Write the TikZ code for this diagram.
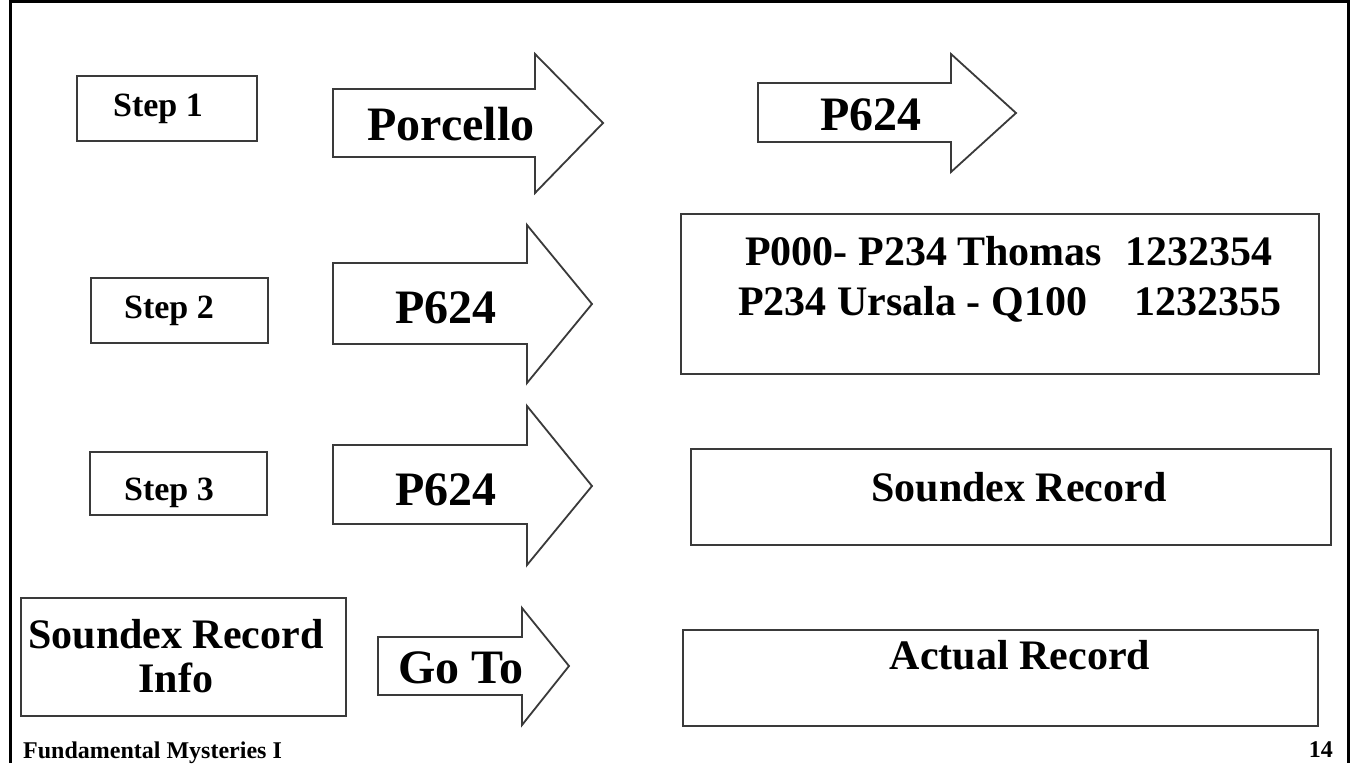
\documentclass[tikz,border=0pt]{standalone}
\usepackage{fontspec}
\setmainfont{Liberation Serif}
\definecolor{edgegray}{HTML}{3A3A3A}
\newcommand\shapearrow[8]{%
  % tail x, body top, body bottom, head x, head top, head bottom, tip x, tip y
  \draw[arrowline] (#1,#2) -- (#4,#2) -- (#4,#5) -- (#7,#8) -- (#4,#6) -- (#4,#3) -- (#1,#3) -- cycle;}
\begin{document}
\begin{tikzpicture}[x=1pt,y=-1pt,
  box/.style={draw=edgegray, line width=2pt, rectangle, inner sep=0pt, anchor=north west},
  arrowline/.style={draw=edgegray, line width=1.8pt, line join=miter, fill=white},
  lbl/.style={inner sep=0pt, anchor=base, text=black},
  small/.style={font=\fontsize{34}{36}\selectfont\bfseries},
  big/.style={font=\fontsize{48}{50}\selectfont\bfseries},
  mid/.style={font=\fontsize{42}{44}\selectfont\bfseries},
  foot/.style={font=\fontsize{24}{26}\selectfont\bfseries}]
\useasboundingbox (0,0) rectangle (1354,763);
\fill[white] (0,0) rectangle (1354,763);

% slide frame
\draw[line width=3pt] (10,1.5) -- (1348,1.5);
\draw[line width=3pt] (10,0) -- (10,763);
\draw[line width=3pt] (1348,0) -- (1348,763);

% step labels
\node[box, minimum width=180pt, minimum height=65pt] (step1) at (76,75) {};
\node[lbl, small] (step1t) at (158,116) {Step 1};
\node[box, minimum width=177pt, minimum height=65pt] (step2) at (90,277) {};
\node[lbl, small] (step2t) at (169,318) {Step 2};
\node[box, minimum width=177pt, minimum height=63pt] (step3) at (89,451) {};
\node[lbl, small] (step3t) at (169,500) {Step 3};

% block arrows
\shapearrow{333}{89}{157}{535}{54}{193}{603}{123}
\node[lbl, big] (porcello) at (451,140) {Porcello};
\shapearrow{758}{83}{142}{951}{54}{172}{1016}{113}
\node[lbl, big] (code1) at (871,130) {P624};
\shapearrow{333}{263}{344}{527}{225}{383}{592}{304}
\node[lbl, big] (code2) at (446,323) {P624};
\shapearrow{333}{445}{524}{527}{406}{565}{592}{486}
\node[lbl, big] (code3) at (446,505) {P624};
\shapearrow{378}{637}{695}{522}{608}{725}{569}{666}
\node[lbl, big] (goto) at (461,683) {Go To};

% index table
\node[box, minimum width=638pt, minimum height=160pt] (index) at (680,213) {};
\node[lbl, mid, anchor=base west] (row1) at (745,265) {P000- P234 Thomas\hspace{23pt}1232354};
\node[lbl, mid, anchor=base west] (row2) at (738,315) {P234 Ursala - Q100\hspace{47pt}1232355};

% record boxes
\node[box, minimum width=640pt, minimum height=96pt] (sdx) at (690,448) {};
\node[lbl, mid] (sdxt) at (1019,501) {Soundex Record};
\node[box, minimum width=325pt, minimum height=118pt] (info) at (20,597) {};
\node[lbl, mid] (info1) at (176,648) {Soundex Record};
\node[lbl, mid] (info2) at (176,692) {Info};
\node[box, minimum width=635pt, minimum height=96pt] (actual) at (682,629) {};
\node[lbl, mid] (actualt) at (1020,669) {Actual Record};

% footer
\node[lbl, foot, anchor=base west] (title) at (23,758) {Fundamental Mysteries I};
\node[lbl, foot, anchor=base east] (page) at (1333,757) {14};
\end{tikzpicture}
\end{document}
